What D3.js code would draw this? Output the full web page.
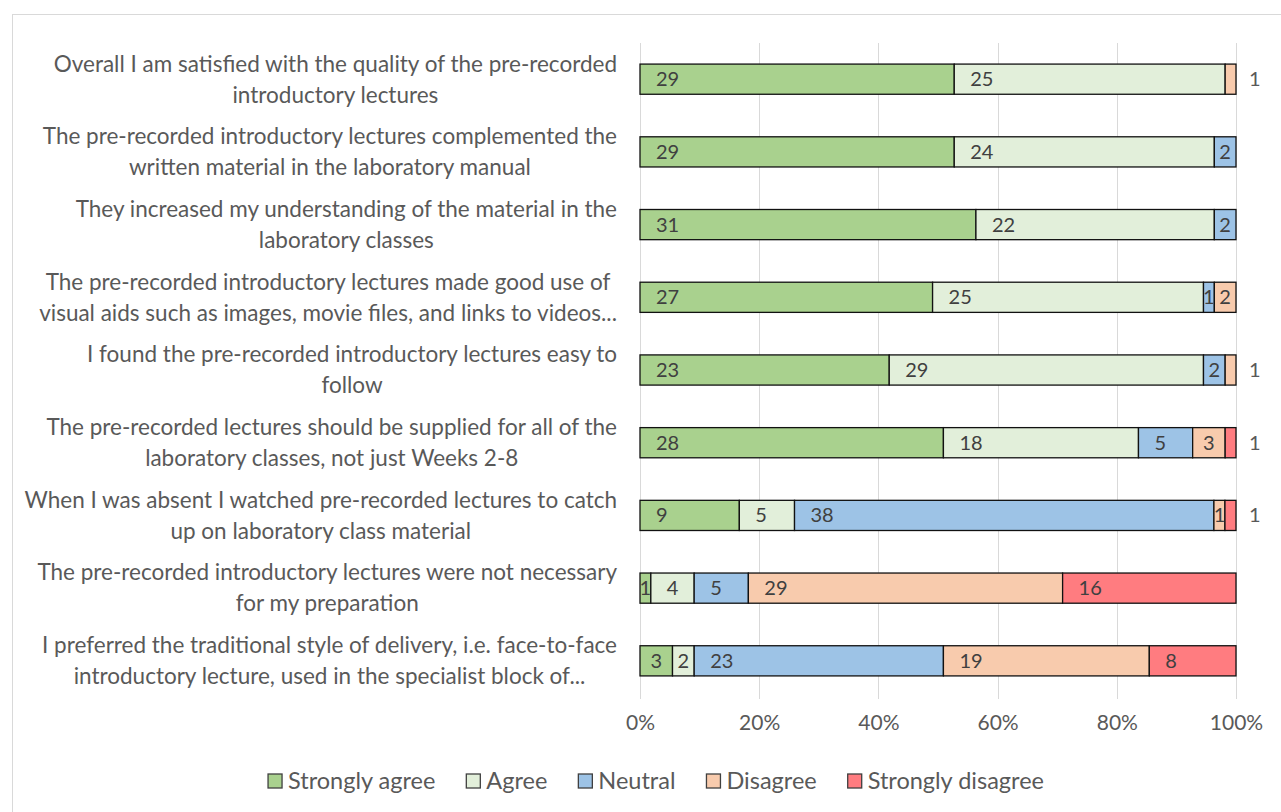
<!DOCTYPE html>
<html>
<head>
<meta charset="utf-8">
<script src="https://cdn.jsdelivr.net/npm/d3@7"></script>
<style>
  html, body { margin: 0; padding: 0; background: #fff; }
  svg { display: block; font-family: Lato, "Open Sans", sans-serif; }
</style>
</head>
<body>
<div id="chart"></div>
<script>
// survey responses, one entry per statement (top to bottom)
const statements = [
  ["Overall I am satisfied with the quality of the pre-recorded", "introductory lectures"],
  ["The pre-recorded introductory lectures complemented the", "written material in the laboratory manual"],
  ["They increased my understanding of the material in the", "laboratory classes"],
  ["The pre-recorded introductory lectures made good use of", "visual aids such as images, movie files, and links to videos..."],
  ["I found the pre-recorded introductory lectures easy to", "follow"],
  ["The pre-recorded lectures should be supplied for all of the", "laboratory classes, not just Weeks 2-8"],
  ["When I was absent I watched pre-recorded lectures to catch", "up on laboratory class material"],
  ["The pre-recorded introductory lectures were not necessary", "for my preparation"],
  ["I preferred the traditional style of delivery, i.e. face-to-face", "introductory lecture, used in the specialist block of..."]
];
const responses = ["Strongly agree", "Agree", "Neutral", "Disagree", "Strongly disagree"];
const stronglyAgree    = [29, 29, 31, 27, 23, 28, 9, 1, 3];
const agree            = [25, 24, 22, 25, 29, 18, 5, 4, 2];
const neutral          = [0, 2, 2, 1, 2, 5, 38, 5, 23];
const disagree         = [1, 0, 0, 2, 1, 3, 1, 29, 19];
const stronglyDisagree = [0, 0, 0, 0, 0, 1, 1, 16, 8];
const tickValues = [0, 0.2, 0.4, 0.6, 0.8, 1];

const colors = ["#a9d18e", "#e2efda", "#9dc3e6", "#f8cbad", "#ff7c80"];

const W = 1281, H = 812;
const margin = { top: 43, right: 45, bottom: 115, left: 640 };

const rows = statements.map((s, i) => ({
  id: i,
  "Strongly agree": stronglyAgree[i],
  "Agree": agree[i],
  "Neutral": neutral[i],
  "Disagree": disagree[i],
  "Strongly disagree": stronglyDisagree[i]
}));

const series = d3.stack().keys(responses).offset(d3.stackOffsetExpand)(rows);

const x = d3.scaleLinear().domain([0, 1]).range([margin.left, W - margin.right]);
const y = d3.scaleBand().domain(rows.map(r => r.id))
  .range([margin.top, H - margin.bottom]).paddingInner(0.585).paddingOuter(0.29);

const svg = d3.select("#chart").append("svg")
  .attr("width", W).attr("height", H);

// chart frame
svg.append("rect")
  .attr("x", 12.5).attr("y", 14.5).attr("width", W + 10).attr("height", H + 10)
  .attr("fill", "#fff").attr("stroke", "#d9d9d9");

// gridlines
svg.append("g")
  .selectAll("line").data(tickValues).join("line")
  .attr("x1", d => Math.round(x(d)) + 0.5).attr("x2", d => Math.round(x(d)) + 0.5)
  .attr("y1", margin.top).attr("y2", H - margin.bottom + 2)
  .attr("stroke", "#d9d9d9");

// x axis labels
const xAxis = svg.append("g")
  .attr("transform", `translate(0,${H - margin.bottom + 15})`)
  .call(d3.axisBottom(x).tickValues(tickValues).tickFormat(d3.format(".0%")).tickSize(0));
xAxis.select(".domain").remove();
xAxis.selectAll("text").attr("font-size", 21).attr("fill", "#595959")
  .attr("font-family", "Lato, sans-serif");

// category labels, two centred lines, right edge of block near the plot
const catG = svg.append("g");
statements.forEach((lines, i) => {
  const cy = y(i) + y.bandwidth() / 2;
  const g = catG.append("g");
  const texts = lines.map((ln, k) => g.append("text")
    .attr("y", cy + (k === 0 ? -15.5 : 15.5))
    .attr("dy", "0.35em")
    .attr("text-anchor", "middle")
    .attr("font-size", 22.5)
    .attr("fill", "#595959")
    .text(ln));
  const maxW = d3.max(texts, t => t.node().getComputedTextLength());
  texts.forEach(t => t.attr("x", margin.left - 23 - maxW / 2));
});

// bars
const barG = svg.append("g");
series.forEach((s, si) => {
  barG.append("g").attr("fill", colors[si])
    .selectAll("rect").data(s.filter(d => d[1] - d[0] > 0)).join("rect")
    .attr("x", d => x(d[0]))
    .attr("y", d => y(d.data.id))
    .attr("width", d => x(d[1]) - x(d[0]))
    .attr("height", y.bandwidth())
    .attr("stroke", "#111")
    .attr("stroke-width", 1.3);
});

// data labels
const lblG = svg.append("g");
rows.forEach((r, i) => {
  const cy = y(r.id) + y.bandwidth() / 2;
  const present = responses.filter(k => r[k] > 0);
  const last = present[present.length - 1];
  series.forEach(s => {
    const d = s[i];
    const v = r[s.key];
    if (!v) return;
    const t = lblG.append("text")
      .attr("y", cy).attr("dy", "0.35em")
      .attr("font-size", 20)
      .text(v);
    const tw = t.node().getComputedTextLength();
    const x0 = x(d[0]), w = x(d[1]) - x(d[0]);
    if (s.key === last && v === 1 && i !== 3) {
      t.attr("x", x(1) + 13).attr("fill", "#595959");
    } else {
      t.attr("x", x0 + Math.min(16, (w - tw) / 2)).attr("fill", "#404040");
    }
  });
});

// legend
const legend = svg.append("g").attr("transform", `translate(0,781)`);
const items = responses.map((k, i) => {
  const g = legend.append("g");
  g.append("rect").attr("x", 0).attr("y", -7).attr("width", 14).attr("height", 14)
    .attr("fill", colors[i]).attr("stroke", "#404040").attr("stroke-width", 1.3);
  const t = g.append("text").attr("x", 20).attr("dy", "0.35em")
    .attr("font-size", 23.5).attr("fill", "#595959").text(k);
  return { g, w: 20 + t.node().getComputedTextLength() };
});
const gap = 31;
const total = d3.sum(items, d => d.w) + gap * (items.length - 1);
let lx = 656 - total / 2;
items.forEach(it => {
  it.g.attr("transform", `translate(${lx},0)`);
  lx += it.w + gap;
});
</script>
</body>
</html>
